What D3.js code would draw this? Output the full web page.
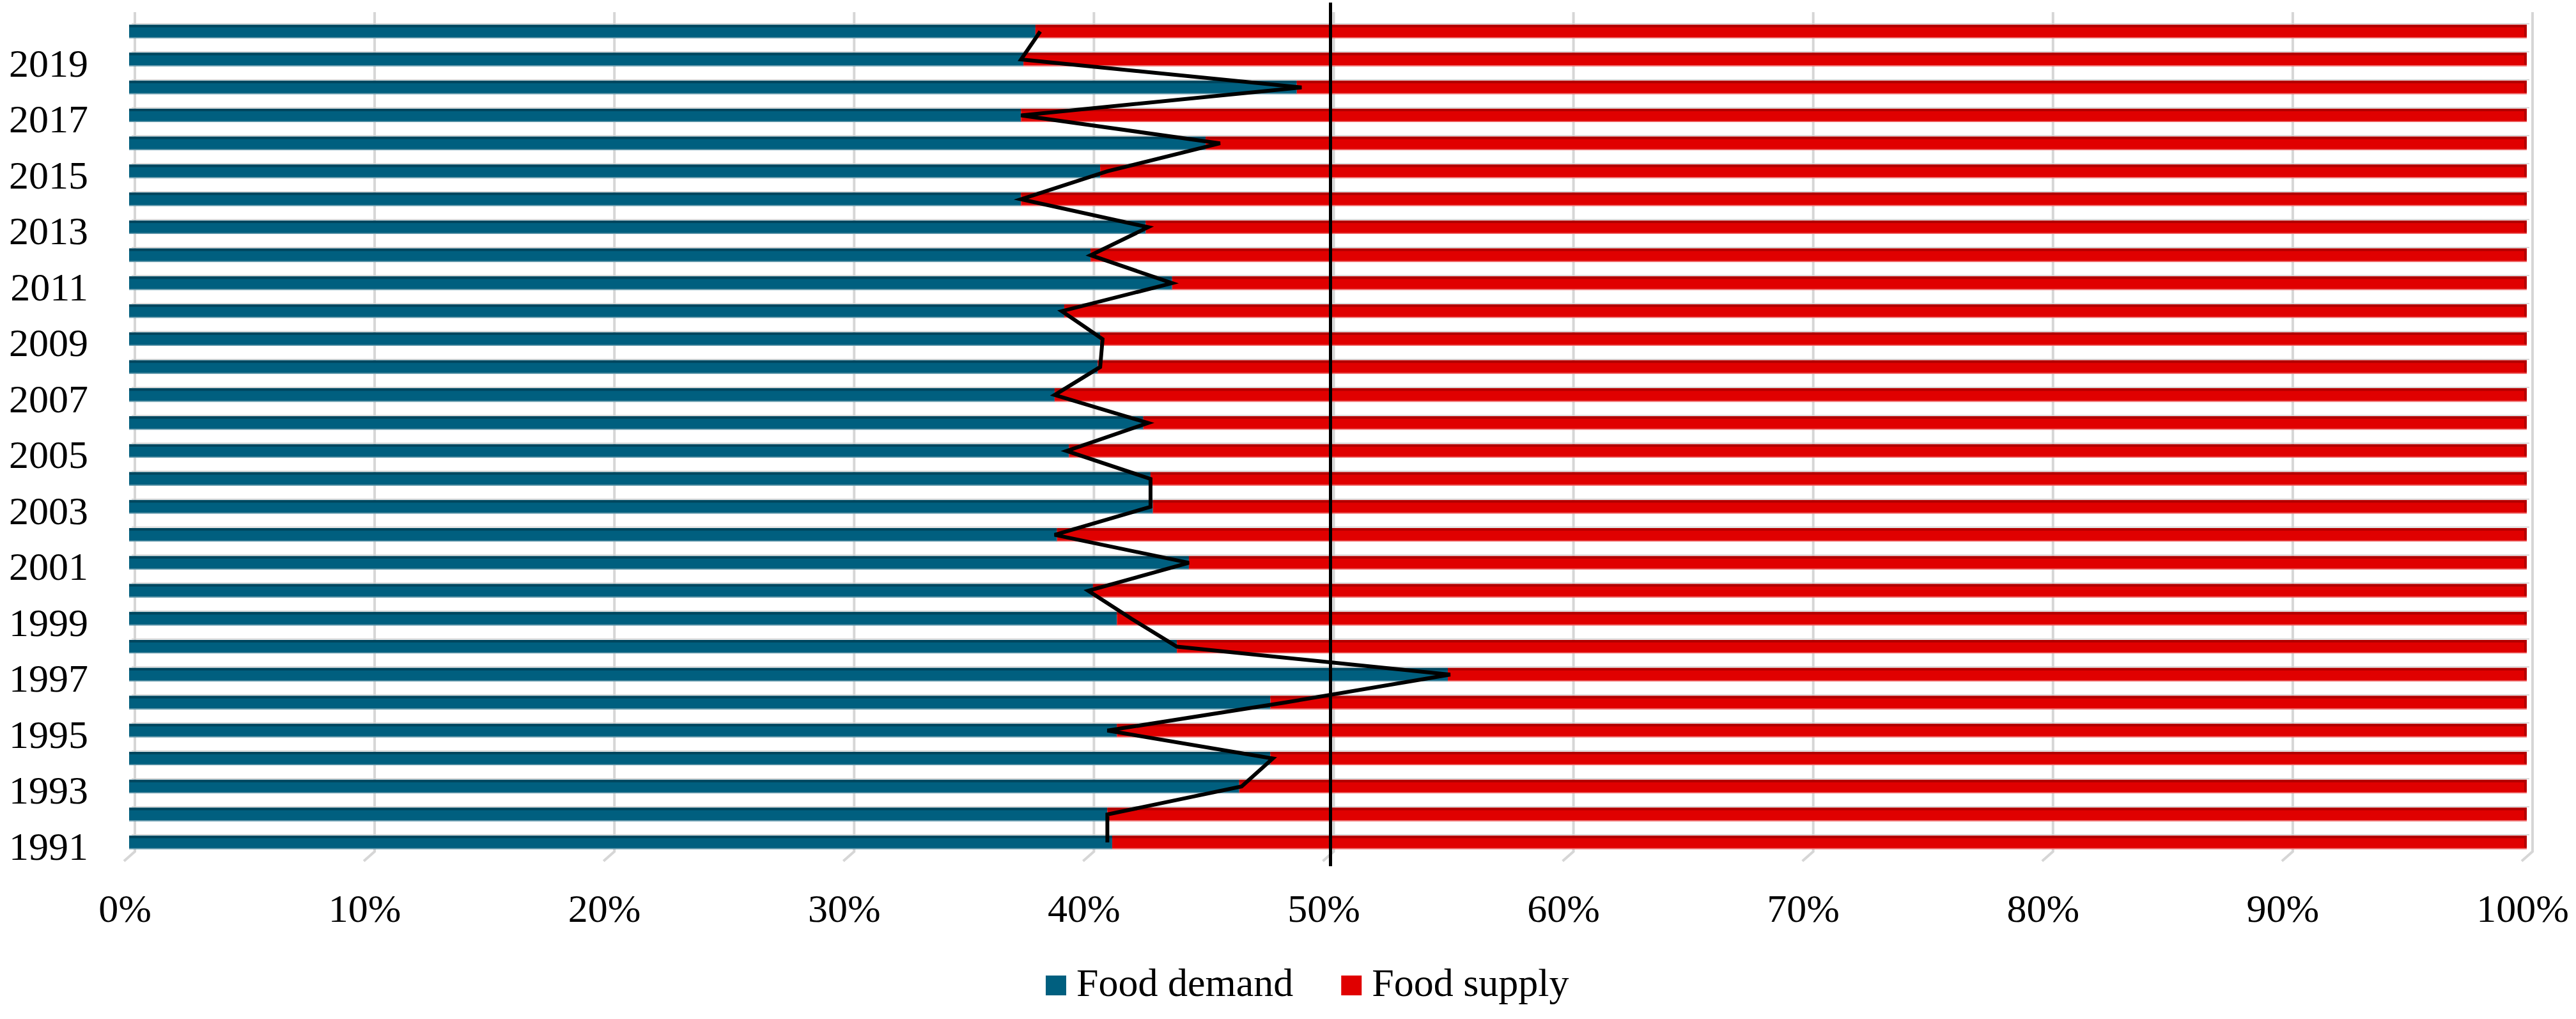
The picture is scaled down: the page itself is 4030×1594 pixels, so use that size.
<!DOCTYPE html>
<html>
<head>
<meta charset="utf-8">
<script src="https://cdn.jsdelivr.net/npm/d3@7"></script>
<style>
  body { margin: 0; background: #fff; }
  svg { display: block; background: #fff; }
</style>
</head>
<body>
<svg width="4030" height="1594"></svg>
<script>
var WIDTH = 4030
var HEIGHT = 1594
var FONT = '"Times New Roman", "Liberation Serif", serif';

// data, bottom (1991) to top (2020)
var years = [1991, 1992, 1993, 1994, 1995, 1996, 1997, 1998, 1999, 2000,
             2001, 2002, 2003, 2004, 2005, 2006, 2007, 2008, 2009, 2010,
             2011, 2012, 2013, 2014, 2015, 2016, 2017, 2018, 2019, 2020];
var foodDemand = [41.0, 40.8, 46.3, 47.6, 41.2, 47.6, 55.0, 43.7, 41.2, 40.2,
                  44.2, 38.7, 42.7, 42.6, 39.2, 42.3, 38.6, 40.4, 40.5, 39.0,
                  43.5, 40.1, 42.4, 37.2, 40.5, 44.9, 37.2, 48.7, 37.3, 37.8];
var foodSupply = [59.0, 59.2, 53.7, 52.4, 58.8, 52.4, 45.0, 56.3, 58.8, 59.8,
                  55.8, 61.3, 57.3, 57.4, 60.8, 57.7, 61.4, 59.6, 59.5, 61.0,
                  56.5, 59.9, 57.6, 62.8, 59.5, 55.1, 62.8, 51.3, 62.7, 62.2];
// black trend line drawn over the bars
var demandLine = [40.8, 40.8, 46.4, 47.7, 40.8, 48.2, 55.1, 43.7, 41.8, 40.0,
                  44.2, 38.6, 42.6, 42.6, 39.1, 42.5, 38.6, 40.5, 40.6, 38.9,
                  43.5, 40.1, 42.5, 37.2, 40.8, 45.5, 37.2, 48.9, 37.2, 38.0];
var xTicks = [0, 10, 20, 30, 40, 50, 60, 70, 80, 90, 100];
var yearLabels = [1991, 1993, 1995, 1997, 1999, 2001, 2003, 2005, 2007, 2009,
                  2011, 2013, 2015, 2017, 2019];
var seriesKeys = ["demand", "supply"];
var seriesNames = ["Food demand", "Food supply"];
var seriesColors = ["#005f7f", "#e00000"];
var seriesTops = ["#00465e", "#b00000"];
var seriesBottoms = ["#6f9fb0", "#f07a7a"];

var svg = d3.select("svg");

var x = d3.scaleLinear()
    .domain([0, 100])
    .range([202, 3953]);

var y = d3.scaleBand()
    .domain(years.slice().reverse())
    .range([16, 1351])
    .paddingInner(0.52)
    .paddingOuter(0.52);

var bw = y.bandwidth();

// gridlines on the back wall, with the little floor stub
svg.append("g")
    .selectAll("path")
    .data(xTicks)
    .join("path")
    .attr("d", function (d) {
        var gx = x(d) + 9;
        return "M" + gx + ",19V1332l-17,15";
    })
    .attr("fill", "none")
    .attr("stroke", "#d6d6d6")
    .attr("stroke-width", 4);

// stacked bars
var rows = years.map(function (yr, i) {
    return { year: yr, demand: foodDemand[i], supply: foodSupply[i] };
});
var stacked = d3.stack().keys(seriesKeys)(rows);

var bars = svg.append("g");

// faint edge above each bar (top face)
bars.selectAll("line.edge")
    .data(rows)
    .join("line")
    .attr("class", "edge")
    .attr("x1", x(0) + 4)
    .attr("x2", x(100) + 4)
    .attr("y1", function (d) { return y(d.year) - 1.5; })
    .attr("y2", function (d) { return y(d.year) - 1.5; })
    .attr("stroke", "#d0d0d0")
    .attr("stroke-width", 1.5);

stacked.forEach(function (layer, li) {
    var g = bars.append("g");
    g.selectAll("rect.main")
        .data(layer)
        .join("rect")
        .attr("class", "main")
        .attr("x", function (d) { return x(d[0]); })
        .attr("width", function (d) { return x(d[1]) - x(d[0]); })
        .attr("y", function (d) { return y(d.data.year); })
        .attr("height", bw)
        .attr("fill", seriesColors[li]);
    g.selectAll("rect.top")
        .data(layer)
        .join("rect")
        .attr("class", "top")
        .attr("x", function (d) { return x(d[0]); })
        .attr("width", function (d) { return x(d[1]) - x(d[0]); })
        .attr("y", function (d) { return y(d.data.year); })
        .attr("height", 4)
        .attr("fill", seriesTops[li]);
    g.selectAll("rect.bottom")
        .data(layer)
        .join("rect")
        .attr("class", "bottom")
        .attr("x", function (d) { return x(d[0]); })
        .attr("width", function (d) { return x(d[1]) - x(d[0]); })
        .attr("y", function (d) { return y(d.data.year) + bw - 1.5; })
        .attr("height", 1.5)
        .attr("fill", seriesBottoms[li]);
});

// darker right end of the supply bars
bars.selectAll("rect.end")
    .data(rows)
    .join("rect")
    .attr("class", "end")
    .attr("x", x(100) - 4)
    .attr("width", 4)
    .attr("y", function (d) { return y(d.year) + 2; })
    .attr("height", bw - 4)
    .attr("rx", 2)
    .attr("fill", "#b40000");

// 50% reference line
svg.append("line")
    .attr("x1", x(50) + 4)
    .attr("x2", x(50) + 4)
    .attr("y1", 4)
    .attr("y2", 1355)
    .attr("stroke", "#000")
    .attr("stroke-width", 5);

// zigzag line
var line = d3.line()
    .x(function (d) { return x(d.v); })
    .y(function (d) { return y(d.year) + bw / 2; });

svg.append("path")
    .datum(years.map(function (yr, i) { return { year: yr, v: demandLine[i] }; }))
    .attr("d", line)
    .attr("fill", "none")
    .attr("stroke", "#000")
    .attr("stroke-width", 6);

// x axis labels
var xLab = d3.scaleLinear()
    .domain([0, 100])
    .range([x(0) - 7, x(100) - 7]);

var xAxis = svg.append("g")
    .attr("transform", "translate(0,1398)")
    .call(d3.axisBottom(xLab)
        .tickValues(xTicks)
        .tickFormat(function (d) { return d + "%"; })
        .tickSize(0)
        .tickPadding(0));
xAxis.select(".domain").remove();
xAxis.attr("font-family", FONT).attr("font-size", 62);
xAxis.selectAll("text").attr("fill", "#000");

// year labels
var yAxis = svg.append("g")
    .attr("transform", "translate(138,7)")
    .call(d3.axisLeft(y)
        .tickValues(yearLabels)
        .tickSize(0)
        .tickPadding(0));
yAxis.select(".domain").remove();
yAxis.attr("font-family", FONT).attr("font-size", 62);
yAxis.selectAll("text").attr("fill", "#000");

// legend
var legend = svg.append("g")
    .attr("font-family", FONT)
    .attr("font-size", 62);

var lx = 1636;
seriesNames.forEach(function (name, i) {
    legend.append("rect")
        .attr("x", lx)
        .attr("y", 1526)
        .attr("width", 32)
        .attr("height", 31)
        .attr("fill", seriesColors[i]);
    var t = legend.append("text")
        .attr("x", lx + 48)
        .attr("y", 1558)
        .attr("fill", "#000")
        .text(name);
    lx = lx + 48 + t.node().getComputedTextLength() + 75;
});
</script>
</body>
</html>
